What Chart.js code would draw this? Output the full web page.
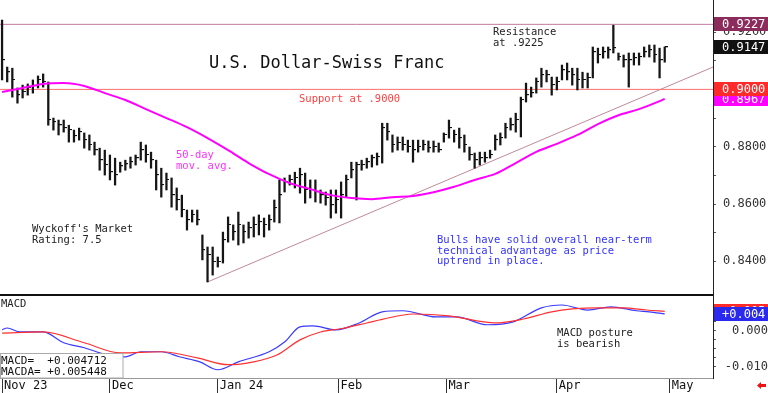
<!DOCTYPE html>
<html>
<head>
<meta charset="utf-8">
<title>U.S. Dollar-Swiss Franc</title>
<script src="https://cdn.jsdelivr.net/npm/chart.js@4.4.1/dist/chart.umd.min.js"></script>
<style>
    html, body { margin: 0; padding: 0; background: #fff; }
    #wrap { position: relative; width: 768px; height: 393px; overflow: hidden; }
    #priceChart { position: absolute; left: 0; top: 0; }
    #macdChart { position: absolute; left: 0; top: 296px; }
</style>
</head>
<body>
<div id="wrap">
    <canvas id="priceChart" width="768" height="296"></canvas>
    <canvas id="macdChart" width="768" height="97"></canvas>
</div>
<script>
// Month labels and their trading-day position
const months = ["Nov 23", "Dec", "Jan 24", "Feb", "Mar", "Apr", "May"];
const monthIdx = [0, 21, 42, 65.5, 86.5, 108, 130];

// Daily bars (one per trading day)
const highs = [
    0.9242, 0.9078, 0.9074, 0.9005, 0.9015, 0.9019, 0.9033, 0.9047, 0.9054, 0.9026,
    0.8900, 0.8893, 0.8893, 0.8875, 0.8858, 0.8865, 0.8848, 0.8841, 0.8816, 0.8795,
    0.8788, 0.8771, 0.8760, 0.8746, 0.8753, 0.8764, 0.8771, 0.8816, 0.8806, 0.8781,
    0.8753, 0.8725, 0.8708, 0.8691, 0.8656, 0.8631, 0.8579, 0.8579, 0.8579, 0.8492,
    0.8450, 0.8450, 0.8415, 0.8502, 0.8555, 0.8527, 0.8572, 0.8527, 0.8537, 0.8555,
    0.8562, 0.8551, 0.8562, 0.8614, 0.8684, 0.8691, 0.8701, 0.8711, 0.8725, 0.8708,
    0.8684, 0.8684, 0.8649, 0.8642, 0.8649, 0.8649, 0.8677, 0.8701, 0.8746, 0.8746,
    0.8753, 0.8760, 0.8771, 0.8778, 0.8882, 0.8882, 0.8841, 0.8834, 0.8834, 0.8823,
    0.8823, 0.8823, 0.8823, 0.8820, 0.8820, 0.8813, 0.8848, 0.8893, 0.8858, 0.8865,
    0.8841, 0.8799, 0.8778, 0.8781, 0.8781, 0.8788, 0.8841, 0.8848, 0.8882, 0.8900,
    0.8917, 0.8973, 0.9022, 0.9008, 0.9040, 0.9074, 0.9067, 0.9043, 0.9043, 0.9085,
    0.9092, 0.9074, 0.9074, 0.9060, 0.9057, 0.9148, 0.9144, 0.9148, 0.9148, 0.9224,
    0.9127, 0.9120, 0.9127, 0.9127, 0.9127, 0.9148, 0.9155, 0.9155, 0.9144, 0.9148,
];
const lows = [
    0.9033, 0.9026, 0.8973, 0.8952, 0.8970, 0.8980, 0.8987, 0.9005, 0.9008, 0.8875,
    0.8858, 0.8841, 0.8851, 0.8816, 0.8816, 0.8823, 0.8795, 0.8788, 0.8771, 0.8718,
    0.8701, 0.8684, 0.8666, 0.8711, 0.8718, 0.8725, 0.8736, 0.8753, 0.8746, 0.8725,
    0.8649, 0.8624, 0.8649, 0.8589, 0.8579, 0.8555, 0.8509, 0.8537, 0.8527, 0.8405,
    0.8328, 0.8352, 0.8380, 0.8394, 0.8467, 0.8474, 0.8457, 0.8464, 0.8481, 0.8485,
    0.8492, 0.8485, 0.8509, 0.8537, 0.8534, 0.8642, 0.8666, 0.8656, 0.8638, 0.8603,
    0.8621, 0.8607, 0.8603, 0.8596, 0.8551, 0.8568, 0.8551, 0.8624, 0.8691, 0.8614,
    0.8718, 0.8725, 0.8729, 0.8736, 0.8743, 0.8823, 0.8781, 0.8788, 0.8788, 0.8781,
    0.8746, 0.8781, 0.8788, 0.8781, 0.8781, 0.8781, 0.8816, 0.8830, 0.8816, 0.8795,
    0.8781, 0.8753, 0.8725, 0.8736, 0.8746, 0.8760, 0.8788, 0.8806, 0.8830, 0.8858,
    0.8851, 0.8834, 0.8956, 0.8973, 0.8987, 0.9008, 0.9026, 0.8980, 0.8998, 0.9033,
    0.9033, 0.9015, 0.8998, 0.9005, 0.9005, 0.9040, 0.9092, 0.9109, 0.9109, 0.9127,
    0.9102, 0.9078, 0.9008, 0.9085, 0.9085, 0.9113, 0.9113, 0.9095, 0.9040, 0.9095,
];
const closes = [
    0.9102, 0.9060, 0.9033, 0.8980, 0.8991, 0.9005, 0.9012, 0.9033, 0.9026, 0.8893,
    0.8886, 0.8875, 0.8865, 0.8858, 0.8837, 0.8851, 0.8823, 0.8806, 0.8788, 0.8753,
    0.8736, 0.8711, 0.8701, 0.8732, 0.8739, 0.8746, 0.8760, 0.8788, 0.8771, 0.8753,
    0.8701, 0.8666, 0.8684, 0.8631, 0.8614, 0.8579, 0.8544, 0.8562, 0.8544, 0.8439,
    0.8422, 0.8398, 0.8398, 0.8474, 0.8527, 0.8502, 0.8527, 0.8502, 0.8516, 0.8527,
    0.8537, 0.8527, 0.8544, 0.8586, 0.8631, 0.8677, 0.8684, 0.8691, 0.8701, 0.8649,
    0.8649, 0.8642, 0.8631, 0.8621, 0.8596, 0.8614, 0.8631, 0.8684, 0.8718, 0.8736,
    0.8736, 0.8746, 0.8760, 0.8764, 0.8865, 0.8851, 0.8806, 0.8813, 0.8806, 0.8799,
    0.8788, 0.8799, 0.8806, 0.8795, 0.8799, 0.8788, 0.8841, 0.8865, 0.8841, 0.8830,
    0.8806, 0.8771, 0.8753, 0.8760, 0.8760, 0.8771, 0.8823, 0.8830, 0.8865, 0.8875,
    0.8893, 0.8963, 0.8980, 0.8987, 0.9026, 0.9050, 0.9050, 0.9015, 0.9026, 0.9067,
    0.9060, 0.9050, 0.9033, 0.9033, 0.9040, 0.9130, 0.9120, 0.9130, 0.9137, 0.9144,
    0.9113, 0.9102, 0.9102, 0.9109, 0.9113, 0.9130, 0.9137, 0.9120, 0.9102, 0.9147,
];

// 50-day moving average
const maIdx = [0, 4, 8, 12, 16, 20, 24, 28, 32, 36, 40, 44, 48, 52, 56, 60, 64, 68, 72, 76,
    80, 84, 88, 92, 96, 100, 104, 108, 112, 116, 120, 124, 128, 129];
const maVals = [0.8991, 0.9005, 0.9019, 0.9022, 0.9012, 0.8987, 0.8963, 0.8931, 0.8900, 0.8868,
    0.8830, 0.8788, 0.8743, 0.8704, 0.8673, 0.8652, 0.8631, 0.8621, 0.8617, 0.8624,
    0.8628, 0.8641, 0.8660, 0.8684, 0.8705, 0.8743, 0.8782, 0.8810, 0.8841, 0.8879,
    0.8910, 0.8931, 0.8959, 0.8967];

// Levels and trend line
const supportLevel = 0.9;
const resistanceLevel = 0.9227;
const trendIdx = [40, 138.4];
const trendVals = [0.8328, 0.9078];

// MACD and its signal line
const macdIdx = [0, 1, 3.5, 8, 12, 16, 19, 21.5, 24, 27, 31, 34.5, 38.5, 42, 46, 52, 55, 58, 60.5, 65,
    69.5, 74, 78, 84.5, 88.5, 94.5, 99.5, 105, 109, 114, 118.5, 123.5, 126, 129];
const macdVals = [0.0003, 0.0008, -0.0003, -0.0003, -0.0033, -0.0047, -0.0061, -0.0072, -0.0072, -0.0058,
    -0.0058, -0.0072, -0.0086, -0.0108, -0.0086, -0.0058, -0.0031, 0.0011, 0.0014, 0.0003,
    0.0022, 0.0053, 0.0056, 0.0039, 0.0039, 0.0017, 0.0025, 0.0064, 0.0072, 0.0058,
    0.0067, 0.0056, 0.0053, 0.004712];
const signalIdx = [0, 8, 16, 23, 31, 38, 44, 49, 53.5, 58, 62, 66, 71, 74, 80, 87, 96, 101.5, 107, 111,
    116, 121, 125.5, 129];
const signalVals = [-0.0006, -0.0003, -0.0033, -0.0061, -0.0058, -0.0075, -0.0094, -0.0086, -0.0067, -0.0025,
    -0.0003, 0.0006, 0.0022, 0.0032, 0.0047, 0.0042, 0.0022, 0.0033, 0.0053, 0.0061,
    0.0064, 0.0064, 0.0058, 0.005448];

// Axis labels
const priceTicks = [0.84, 0.86, 0.88, 0.9, 0.92];
const macdTicks = [0, -0.01];

(function () {
    "use strict";

    const mono = "'DejaVu Sans Mono', monospace";
    Chart.defaults.font.family = mono;
    Chart.defaults.font.size = 12;
    Chart.defaults.color = "#333";

    const xMin = -0.4;
    const xMax = 138.4;
    const axisWidth = 55;

    const toPoints = (idx, vals) => idx.map((x, i) => ({ x: x, y: vals[i] }));
    const isLabelled = (list, v) => list.some((t) => Math.abs(t - v) < 1e-7);

    // fixed-width right axis, no extra padding
    const fitRight = (scale) => {
        scale.width = axisWidth;
        scale.paddingTop = 0;
        scale.paddingBottom = 0;
    };

    // end ticks get no label, so the axis asks for no room above/below
    const minorLabel = (list, digits) => (v, i, ticks) => {
        if (i === 0 || i === ticks.length - 1) return null;
        return isLabelled(list, v) ? v.toFixed(digits).replace("-0.000", "0.000") : "";
    };

    // small close tick to the right of each bar
    const closeTick = document.createElement("canvas");
    closeTick.width = 6;
    closeTick.height = 2;
    const tctx = closeTick.getContext("2d");
    tctx.fillStyle = "#111";
    tctx.fillRect(3, 0, 3, 1);

    function valueBox(ctx, left, right, y, fill, text) {
        const yy = Math.round(y);
        ctx.fillStyle = fill;
        ctx.fillRect(left, yy - 7, right - left, 14);
        ctx.fillStyle = "#fff";
        ctx.textBaseline = "middle";
        ctx.font = "12px " + mono;
        ctx.fillText(text, left + 8, yy + 1);
    }

    function writeLines(ctx, lines, x, y, step, color) {
        ctx.fillStyle = color;
        ctx.textBaseline = "alphabetic";
        lines.forEach((line, i) => ctx.fillText(line, x, y + i * step));
    }

    // Price panel notes and value boxes
    const priceNotes = {
        id: "priceNotes",
        afterDraw(chart) {
            const { ctx, chartArea } = chart;
            const y = chart.scales.y;
            ctx.save();

            ctx.strokeStyle = "#111";
            ctx.lineWidth = 2;
            ctx.beginPath();
            ctx.moveTo(0, chart.height - 1);
            ctx.lineTo(chartArea.right, chart.height - 1);
            ctx.stroke();

            ctx.font = "17px " + mono;
            writeLines(ctx, ["U.S. Dollar-Swiss Franc"], 209, 68, 0, "#111");

            ctx.font = "10.5px " + mono;
            writeLines(ctx, ["Resistance", "at .9225"], 493, 35, 11, "#222");
            writeLines(ctx, ["Support at .9000"], 299, 102, 0, "#ff4040");
            writeLines(ctx, ["50-day", "mov. avg."], 176, 158, 11, "#ff33ff");
            writeLines(ctx, ["Wyckoff's Market", "Rating: 7.5"], 32, 232, 11, "#222");
            writeLines(ctx, [
                "Bulls have solid overall near-term",
                "technical advantage as price",
                "uptrend in place.",
            ], 437, 243, 10.5, "#3333ff");

            const left = chartArea.right + 1;
            const right = chart.width;
            const lastMa = maVals[maVals.length - 1];
            const lastClose = closes[closes.length - 1];
            valueBox(ctx, left, right, y.getPixelForValue(lastMa), "#ff00ff", lastMa.toFixed(4));
            valueBox(ctx, left, right, y.getPixelForValue(supportLevel), "#ff2a2a", supportLevel.toFixed(4));
            valueBox(ctx, left, right, y.getPixelForValue(resistanceLevel), "#8b2c5c", resistanceLevel.toFixed(4));
            valueBox(ctx, left, right, y.getPixelForValue(lastClose), "#111", lastClose.toFixed(4));

            ctx.restore();
        },
    };

    const priceCtx = document.getElementById("priceChart").getContext("2d");
    const flat = (v) => [{ x: xMin, y: v }, { x: xMax, y: v }];

    new Chart(priceCtx, {
        type: "line",
        data: {
            datasets: [
                {
                    data: flat(resistanceLevel),
                    borderColor: "#c27aa0",
                    borderWidth: 1,
                    pointRadius: 0,
                    order: 5,
                },
                {
                    data: flat(supportLevel),
                    borderColor: "#ff6e6e",
                    borderWidth: 1,
                    pointRadius: 0,
                    order: 5,
                },
                {
                    data: toPoints(trendIdx, trendVals),
                    borderColor: "#c08a98",
                    borderWidth: 1,
                    pointRadius: 0,
                    order: 5,
                },
                {
                    type: "bar",
                    data: highs.map((h, i) => ({ x: i, y: [lows[i], h] })),
                    backgroundColor: "#151515",
                    barThickness: 1.6,
                    order: 3,
                },
                {
                    data: closes.map((c, i) => ({ x: i, y: c })),
                    showLine: false,
                    pointStyle: closeTick,
                    pointRadius: 2,
                    order: 2,
                },
                {
                    data: toPoints(maIdx, maVals),
                    borderColor: "#ff00ff",
                    borderWidth: 2,
                    pointRadius: 0,
                    cubicInterpolationMode: "monotone",
                    order: 1,
                },
            ],
        },
        options: {
            responsive: false,
            animation: false,
            events: [],
            layout: { padding: 0, autoPadding: false },
            plugins: {
                legend: { display: false },
                tooltip: { enabled: false },
            },
            scales: {
                x: {
                    type: "linear",
                    min: xMin,
                    max: xMax,
                    offset: false,
                    display: false,
                    grid: { offset: false },
                },
                y: {
                    position: "right",
                    min: 0.8279,
                    max: 0.9312,
                    afterBuildTicks: (scale) => {
                        const ticks = [];
                        for (let v = 83; v <= 93; v++) ticks.push({ value: v / 100 });
                        scale.ticks = ticks;
                    },
                    afterFit: fitRight,
                    ticks: {
                        autoSkip: false,
                        padding: 7,
                        color: "#333",
                        callback: minorLabel(priceTicks, 4),
                    },
                    grid: { drawOnChartArea: false, tickLength: 3, color: "#555" },
                    border: { display: true, color: "#222" },
                },
            },
        },
        plugins: [priceNotes],
    });

    // MACD panel notes and value boxes
    const macdNotes = {
        id: "macdNotes",
        afterDraw(chart) {
            const { ctx, chartArea } = chart;
            const y = chart.scales.y;
            ctx.save();

            ctx.font = "10.5px " + mono;
            writeLines(ctx, ["MACD"], 1, 11, 0, "#222");
            writeLines(ctx, ["MACD posture", "is bearish"], 557, 40, 11, "#222");

            // readout box
            const lastMacd = macdVals[macdVals.length - 1];
            const lastSignal = signalVals[signalVals.length - 1];
            ctx.fillStyle = "#fff";
            ctx.fillRect(0, 57, 123, chartArea.bottom - 57);
            ctx.strokeStyle = "#aaa";
            ctx.lineWidth = 1;
            ctx.strokeRect(0.5, 57.5, 122.5, chartArea.bottom - 57.5);
            ctx.font = "11px " + mono;
            writeLines(ctx, [
                "MACD=  +" + lastMacd.toFixed(6),
                "MACDA= +" + lastSignal.toFixed(6),
            ], 1, 68, 11, "#111");

            const left = chartArea.right + 1;
            const right = chart.width;
            const cut = (v) => "+" + (Math.floor(v * 1000) / 1000).toFixed(3);
            valueBox(ctx, left, right, y.getPixelForValue(lastSignal), "#ff2a2a", cut(lastSignal));
            valueBox(ctx, left, right, y.getPixelForValue(lastMacd), "#2a2aee", cut(lastMacd));

            // small red arrow, bottom right
            ctx.fillStyle = "#ee1111";
            ctx.beginPath();
            ctx.moveTo(757, 89.5);
            ctx.lineTo(761, 86);
            ctx.lineTo(761, 88);
            ctx.lineTo(766, 88);
            ctx.lineTo(766, 91);
            ctx.lineTo(761, 91);
            ctx.lineTo(761, 93);
            ctx.closePath();
            ctx.fill();

            ctx.restore();
        },
    };

    const macdCtx = document.getElementById("macdChart").getContext("2d");

    new Chart(macdCtx, {
        type: "line",
        data: {
            datasets: [
                {
                    data: toPoints(signalIdx, signalVals),
                    borderColor: "#ff3030",
                    borderWidth: 1.2,
                    pointRadius: 0,
                    cubicInterpolationMode: "monotone",
                },
                {
                    data: toPoints(macdIdx, macdVals),
                    borderColor: "#3a3aff",
                    borderWidth: 1.2,
                    pointRadius: 0,
                    cubicInterpolationMode: "monotone",
                },
            ],
        },
        options: {
            responsive: false,
            animation: false,
            events: [],
            layout: { padding: 0, autoPadding: false },
            plugins: {
                legend: { display: false },
                tooltip: { enabled: false },
            },
            scales: {
                x: {
                    type: "linear",
                    min: xMin,
                    max: xMax,
                    offset: false,
                    afterBuildTicks: (scale) => {
                        scale.ticks = monthIdx.map((v) => ({ value: v }));
                    },
                    afterFit: (scale) => {
                        scale.height = 15;
                        scale.paddingLeft = 0;
                        scale.paddingRight = 0;
                    },
                    ticks: {
                        autoSkip: false,
                        maxRotation: 0,
                        align: "start",
                        labelOffset: 2,
                        padding: -14,
                        color: "#111",
                        callback: (v, i) => months[i],
                    },
                    grid: { drawOnChartArea: false, tickLength: 15, color: "#333", offset: false },
                    border: { display: true, color: "#999" },
                },
                y: {
                    position: "right",
                    min: -0.0131,
                    max: 0.0097,
                    afterBuildTicks: (scale) => {
                        const ticks = [];
                        for (let v = -5; v <= 3; v++) ticks.push({ value: v * 0.0025 });
                        scale.ticks = ticks;
                    },
                    afterFit: fitRight,
                    ticks: {
                        autoSkip: false,
                        padding: 8,
                        crossAlign: "far",
                        color: "#333",
                        callback: minorLabel(macdTicks, 3),
                    },
                    grid: { drawOnChartArea: false, tickLength: 3, color: "#555" },
                    border: { display: true, color: "#222" },
                },
            },
        },
        plugins: [macdNotes],
    });
})();
</script>
</body>
</html>
